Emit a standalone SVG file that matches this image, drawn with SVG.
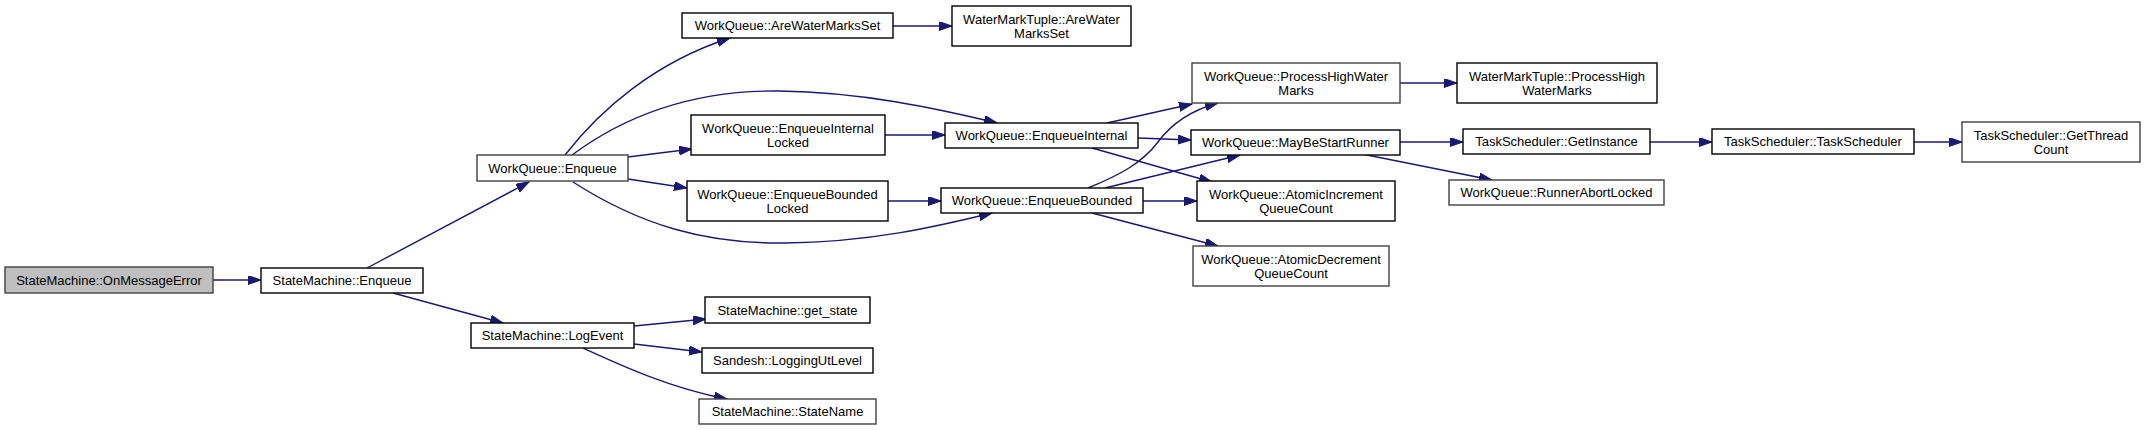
<svg xmlns="http://www.w3.org/2000/svg" width="2145" height="430" viewBox="0 0 2145 430">
<style>
.n rect{fill:#fff;stroke:#000;stroke-width:1.4}
.n.g rect{stroke:#404040}
.n.s rect{fill:#bfbfbf;stroke:#404040}
.n text{font-family:"Liberation Sans",Arial,sans-serif;font-size:13px;text-anchor:middle;fill:#000}
.e path{fill:none;stroke:#191970;stroke-width:1.4}
</style>
<defs>
<marker id="a" markerUnits="userSpaceOnUse" markerWidth="14" markerHeight="10" refX="13" refY="4.5" orient="auto">
<path d="M0,0 L13,4.5 L0,9 z" fill="#191970" stroke="#191970" stroke-width="1"/>
</marker>
</defs>
<rect width="2145" height="430" fill="#fff"/>
<g class="e">
<path d="M213,280 L261,280" marker-end="url(#a)"/>
<path d="M367,268 L529,182" marker-end="url(#a)"/>
<path d="M393,293 L503,323" marker-end="url(#a)"/>
<path d="M565,155 C600,110 655,62 730,38" marker-end="url(#a)"/>
<path d="M572,155 C630,112 700,90 780,91 C860,92 935,108 997,123" marker-end="url(#a)"/>
<path d="M628,157 L692,149" marker-end="url(#a)"/>
<path d="M628,179 L687,188" marker-end="url(#a)"/>
<path d="M573,182 C640,225 705,244 785,243 C870,242 935,227 992,213" marker-end="url(#a)"/>
<path d="M885,135 L945,135" marker-end="url(#a)"/>
<path d="M888,201 L941,201" marker-end="url(#a)"/>
<path d="M893,26 L952,26" marker-end="url(#a)"/>
<path d="M1107,123 L1192,104" marker-end="url(#a)"/>
<path d="M1138,138 L1191,140" marker-end="url(#a)"/>
<path d="M1092,148 L1212,182" marker-end="url(#a)"/>
<path d="M1088,188 C1120,175 1142,163 1158,142 C1172,123 1192,110 1218,103" marker-end="url(#a)"/>
<path d="M1105,188 L1240,155" marker-end="url(#a)"/>
<path d="M1143,201 L1197,201" marker-end="url(#a)"/>
<path d="M1092,213 L1218,246" marker-end="url(#a)"/>
<path d="M1400,83 L1457,83" marker-end="url(#a)"/>
<path d="M1400,142 L1463,142" marker-end="url(#a)"/>
<path d="M1362,154 L1492,180" marker-end="url(#a)"/>
<path d="M1650,142 L1712,142" marker-end="url(#a)"/>
<path d="M1914,142 L1962,142" marker-end="url(#a)"/>
<path d="M634,326 L706,319" marker-end="url(#a)"/>
<path d="M634,344 L702,352" marker-end="url(#a)"/>
<path d="M583,348 C620,365 670,388 727,399" marker-end="url(#a)"/>
</g>
<g id="n0" class="n s"><rect x="5" y="267" width="208" height="26"/><text x="109" y="284.5">StateMachine::OnMessageError</text></g>
<g id="n1" class="n"><rect x="261" y="268" width="162" height="25"/><text x="342" y="285">StateMachine::Enqueue</text></g>
<g id="n2" class="n g"><rect x="477" y="155" width="151" height="26"/><text x="552.5" y="172.5">WorkQueue::Enqueue</text></g>
<g id="n3" class="n"><rect x="682" y="13" width="211" height="25"/><text x="787.5" y="30">WorkQueue::AreWaterMarksSet</text></g>
<g id="n4" class="n"><rect x="691" y="115" width="194" height="40"/><text x="788" y="132.5">WorkQueue::EnqueueInternal</text><text x="788" y="146.5">Locked</text></g>
<g id="n5" class="n"><rect x="687" y="181" width="201" height="40"/><text x="787.5" y="198.5">WorkQueue::EnqueueBounded</text><text x="787.5" y="212.5">Locked</text></g>
<g id="n6" class="n"><rect x="471" y="323" width="163" height="25"/><text x="552.5" y="340">StateMachine::LogEvent</text></g>
<g id="n7" class="n"><rect x="705" y="297" width="165" height="26"/><text x="787.5" y="314.5">StateMachine::get_state</text></g>
<g id="n8" class="n"><rect x="702" y="348" width="171" height="25"/><text x="787.5" y="365">Sandesh::LoggingUtLevel</text></g>
<g id="n9" class="n g"><rect x="699" y="399" width="177" height="25"/><text x="787.5" y="416">StateMachine::StateName</text></g>
<g id="n10" class="n"><rect x="952" y="6" width="179" height="40"/><text x="1041.5" y="23.5">WaterMarkTuple::AreWater</text><text x="1041.5" y="37.5">MarksSet</text></g>
<g id="n11" class="n g"><rect x="1192" y="63" width="208" height="40"/><text x="1296" y="80.5">WorkQueue::ProcessHighWater</text><text x="1296" y="94.5">Marks</text></g>
<g id="n12" class="n"><rect x="945" y="123" width="193" height="25"/><text x="1041.5" y="140">WorkQueue::EnqueueInternal</text></g>
<g id="n13" class="n"><rect x="1191" y="130" width="209" height="25"/><text x="1295.5" y="147">WorkQueue::MayBeStartRunner</text></g>
<g id="n14" class="n"><rect x="941" y="188" width="202" height="25"/><text x="1042" y="205">WorkQueue::EnqueueBounded</text></g>
<g id="n15" class="n"><rect x="1197" y="181" width="198" height="40"/><text x="1296" y="198.5">WorkQueue::AtomicIncrement</text><text x="1296" y="212.5">QueueCount</text></g>
<g id="n16" class="n g"><rect x="1193" y="246" width="196" height="40"/><text x="1291" y="263.5">WorkQueue::AtomicDecrement</text><text x="1291" y="277.5">QueueCount</text></g>
<g id="n17" class="n"><rect x="1457" y="63" width="200" height="40"/><text x="1557" y="80.5">WaterMarkTuple::ProcessHigh</text><text x="1557" y="94.5">WaterMarks</text></g>
<g id="n18" class="n"><rect x="1463" y="129" width="187" height="25"/><text x="1556.5" y="146">TaskScheduler::GetInstance</text></g>
<g id="n19" class="n g"><rect x="1449" y="180" width="215" height="25"/><text x="1556.5" y="197">WorkQueue::RunnerAbortLocked</text></g>
<g id="n20" class="n"><rect x="1712" y="129" width="202" height="25"/><text x="1813" y="146">TaskScheduler::TaskScheduler</text></g>
<g id="n21" class="n g"><rect x="1962" y="122" width="178" height="40"/><text x="2051" y="139.5">TaskScheduler::GetThread</text><text x="2051" y="153.5">Count</text></g>
</svg>
